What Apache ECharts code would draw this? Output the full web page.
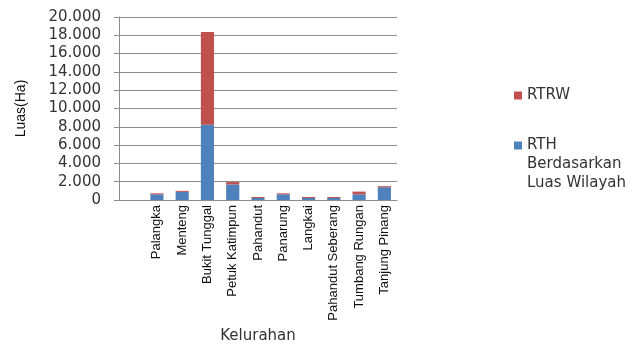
<!DOCTYPE html>
<html>
<head>
<meta charset="utf-8">
<script src="https://cdn.jsdelivr.net/npm/echarts@6/dist/echarts.min.js"></script>
<style>
  html, body { margin: 0; padding: 0; background: #fff; }
  #main { width: 638px; height: 345px; }
</style>
</head>
<body>
<div id="main"></div>
<script>
// kategori kelurahan (slot pertama kosong, seperti di grafik aslinya)
const categories = ["", "Palangka", "Menteng", "Bukit Tunggal", "Petuk Katimpun", "Pahandut",
  "Panarung", "Langkai", "Pahandut Seberang", "Tumbang Rungan", "Tanjung Pinang"];
// RTH berdasarkan luas wilayah (bagian bawah, biru)
const rthValues = [null, 620, 890, 8230, 1700, 220, 620, 220, 220, 620, 1400];
// RTRW (bagian atas, merah)
const rtrwValues = [null, 110, 110, 10130, 260, 110, 110, 110, 110, 300, 110];
const yTicks = { min: 0, max: 20000, interval: 2000 };

function fmt (v) {
  // pemisah ribuan pakai titik
  return String(v).replace(/\B(?=(\d{3})+(?!\d))/g, ".");
}

const myChart = echarts.init(document.getElementById("main"));
const option = {
  animation: false,
  grid: { left: 119, right: 241, top: 17, bottom: 145, outerBoundsMode: "none" },
  legend: [
    {
      left: 509, top: 83,
      orient: "vertical",
      itemWidth: 8, itemHeight: 8,
      icon: "rect",
      data: ["RTRW"],
      textStyle: { fontFamily: "DejaVu Sans", fontSize: 15, color: "#333" },
    },
    {
      // dua baris kosong di atas supaya kotak warna sejajar baris pertama
      left: 509, top: 93,
      orient: "vertical",
      itemWidth: 8, itemHeight: 8,
      icon: "rect",
      data: ["RTH Berdasarkan Luas Wilayah"],
      formatter: () => "\n\nRTH\nBerdasarkan\nLuas Wilayah",
      textStyle: {
        fontFamily: "DejaVu Sans", fontSize: 15, color: "#333", lineHeight: 19,
      },
    },
  ],
  xAxis: {
    type: "category",
    data: categories,
    name: "Kelurahan",
    nameLocation: "middle",
    nameGap: 124,
    nameTextStyle: { fontFamily: "DejaVu Sans", fontSize: 15, color: "#333" },
    axisLine: { lineStyle: { color: "#8c8c8c" } },
    axisTick: { show: false },
    axisLabel: {
      rotate: 90, interval: 0, margin: 5,
      fontFamily: "Liberation Sans", fontSize: 13, color: "#111",
    },
  },
  yAxis: {
    type: "value",
    min: yTicks.min, max: yTicks.max, interval: yTicks.interval,
    name: "Luas(Ha)",
    nameLocation: "middle",
    nameGap: 91,
    nameTextStyle: { fontFamily: "Liberation Sans", fontSize: 14, color: "#111" },
    axisLine: { show: true, lineStyle: { color: "#8c8c8c" } },
    axisTick: { show: true, length: 5, lineStyle: { color: "#8c8c8c" } },
    splitLine: { lineStyle: { color: "#8c8c8c" } },
    axisLabel: {
      margin: 18, formatter: fmt,
      fontFamily: "DejaVu Sans", fontSize: 15, color: "#333",
    },
  },
  series: [
    {
      name: "RTH Berdasarkan Luas Wilayah",
      type: "bar",
      stack: "luas",
      barCategoryGap: "48%",
      color: "#4F81BD",
      data: rthValues,
    },
    {
      name: "RTRW",
      type: "bar",
      stack: "luas",
      barCategoryGap: "48%",
      color: "#C0504D",
      data: rtrwValues,
    },
  ],
};
myChart.setOption(option);
</script>
</body>
</html>
